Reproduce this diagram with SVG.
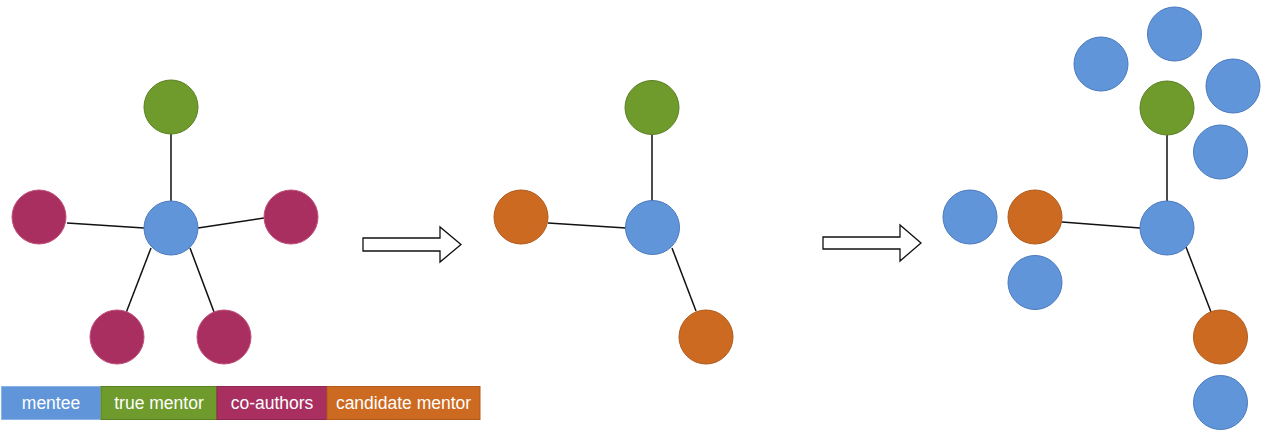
<svg xmlns="http://www.w3.org/2000/svg" width="1265" height="435" viewBox="0 0 1265 435">
<style>
.mentee{fill:#6096d9;stroke:#4a79bd;stroke-width:1}
.mentor{fill:#6e9b2c;stroke:#5a8024;stroke-width:1}
.coauth{fill:#a82f60;stroke:#c0507a;stroke-width:1}
.cand{fill:#cd6a21;stroke:#b05a1c;stroke-width:1}
.edge{stroke:#111;stroke-width:1.5;fill:none}
.arrow{fill:#fff;stroke:#111;stroke-width:1.3;stroke-linejoin:miter}
.lbl{font-family:"Liberation Sans",Arial,sans-serif;font-size:17.5px;fill:#fff;text-anchor:middle}
</style>
<rect width="1265" height="435" fill="#fff"/>
<g id="connectors">
<line class="edge" x1="171" y1="134" x2="171" y2="201"/>
<line class="edge" x1="67" y1="223" x2="144" y2="228"/>
<line class="edge" x1="198" y1="228" x2="264" y2="218"/>
<line class="edge" x1="151" y1="248" x2="126" y2="313"/>
<line class="edge" x1="190" y1="248" x2="214" y2="312"/>
<line class="edge" x1="652" y1="134" x2="652" y2="201"/>
<line class="edge" x1="548" y1="223" x2="626" y2="228"/>
<line class="edge" x1="672" y1="248" x2="696" y2="311"/>
<line class="edge" x1="1167" y1="135" x2="1167" y2="201"/>
<line class="edge" x1="1062" y1="222" x2="1140" y2="228"/>
<line class="edge" x1="1186" y1="247" x2="1211" y2="312"/>
</g>
<g id="arrow1"><polygon class="arrow" points="363,238 440,238 440,227 461,244.5 440,262 440,251 363,251"/></g>
<g id="arrow2"><polygon class="arrow" points="823,237 900,237 900,225 921,243 900,261 900,249 823,249"/></g>
<g id="p1-mentor"><circle class="mentor" cx="171" cy="107" r="27"/></g>
<g id="p1-mentee"><circle class="mentee" cx="171" cy="228" r="27"/></g>
<g id="p1-coauthor-left"><circle class="coauth" cx="39" cy="217" r="27"/></g>
<g id="p1-coauthor-right"><circle class="coauth" cx="291" cy="217" r="27"/></g>
<g id="p1-coauthor-bl"><circle class="coauth" cx="117" cy="337" r="27"/></g>
<g id="p1-coauthor-br"><circle class="coauth" cx="224" cy="337" r="27"/></g>
<g id="p2-mentor"><circle class="mentor" cx="652" cy="107.5" r="27"/></g>
<g id="p2-mentee"><circle class="mentee" cx="652.5" cy="227.5" r="27"/></g>
<g id="p2-cand-left"><circle class="cand" cx="521" cy="217" r="27"/></g>
<g id="p2-cand-bottom"><circle class="cand" cx="706" cy="337" r="27"/></g>
<g id="p3-mentor"><circle class="mentor" cx="1167" cy="108" r="27"/></g>
<g id="p3-mentee"><circle class="mentee" cx="1167" cy="228" r="27"/></g>
<g id="p3-cand-left"><circle class="cand" cx="1035" cy="217" r="27"/></g>
<g id="p3-cand-bottom"><circle class="cand" cx="1220.5" cy="337" r="27"/></g>
<g id="p3-b1"><circle class="mentee" cx="1101" cy="64" r="27"/></g>
<g id="p3-b2"><circle class="mentee" cx="1174.5" cy="34" r="27"/></g>
<g id="p3-b3"><circle class="mentee" cx="1233" cy="86" r="27"/></g>
<g id="p3-b4"><circle class="mentee" cx="1220.5" cy="152" r="27"/></g>
<g id="p3-b5"><circle class="mentee" cx="970" cy="217" r="27"/></g>
<g id="p3-b6"><circle class="mentee" cx="1035" cy="282.5" r="27"/></g>
<g id="p3-b7"><circle class="mentee" cx="1220.5" cy="402.5" r="27"/></g>
<g id="legend">
<rect x="1.5" y="386.5" width="99" height="33" fill="#6096d9" stroke="#8ab4e8" stroke-width="1"/>
<rect x="101" y="386.5" width="116" height="33" fill="#6e9b2c" stroke="#5a8024" stroke-width="1"/>
<rect x="217" y="386.5" width="110" height="33" fill="#a82f60" stroke="#8e2851" stroke-width="1"/>
<rect x="327" y="386.5" width="153" height="33" fill="#cd6a21" stroke="#b05a1c" stroke-width="1"/>
<text class="lbl" x="51" y="409">mentee</text>
<text class="lbl" x="159" y="409">true mentor</text>
<text class="lbl" x="272" y="409">co-authors</text>
<text class="lbl" x="403.5" y="409">candidate mentor</text>
</g>
</svg>
